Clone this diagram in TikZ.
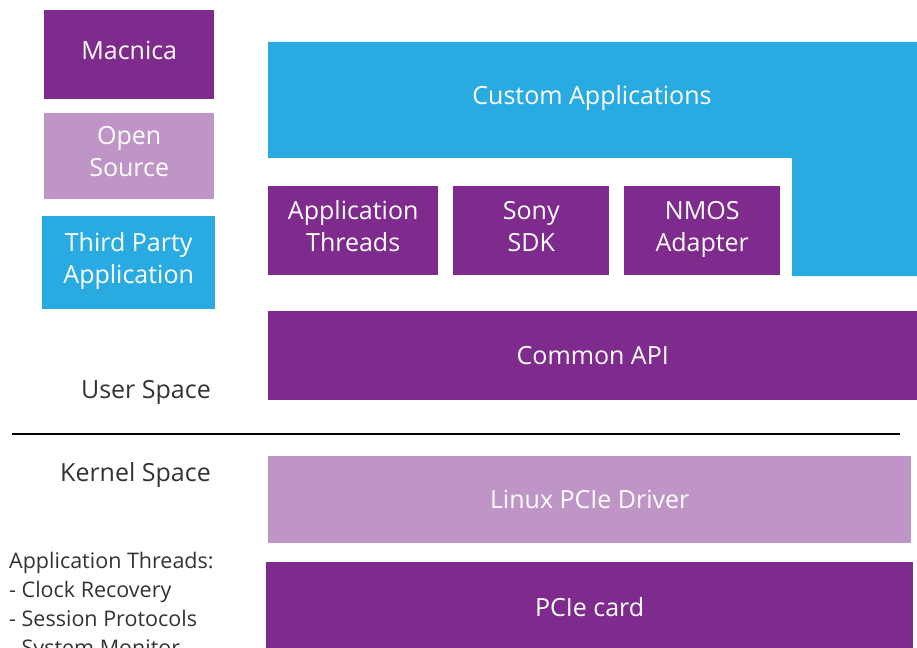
\documentclass[tikz,border=0pt]{standalone}
\usepackage{fontspec}
\setmainfont{Open Sans}
\usetikzlibrary{positioning}

\definecolor{mcpurple}{HTML}{7F2A8D}
\definecolor{ospurple}{HTML}{BF95C7}
\definecolor{tpblue}{HTML}{29ABE2}
\definecolor{labelgray}{HTML}{333333}

\begin{document}
\begin{tikzpicture}[x=1pt,y=-1pt,
    layer/.style={rectangle,anchor=north west,inner sep=0pt,text=white,align=center,
        font=\fontsize{25}{32}\selectfont},
    raised/.style={text depth=9pt},
    side/.style={text=labelgray,inner sep=0pt,font=\fontsize{25}{30}\selectfont}]
    \useasboundingbox (0,0) rectangle (917,647);
    \clip (0,0) rectangle (917,647);
    \begin{scope} % Legend
        \node[layer,raised,fill=mcpurple,minimum width=170,minimum height=89] (macnica) at (44,10) {Macnica};
        \node[layer,raised,fill=ospurple,minimum width=170,minimum height=86] (opensrc) at (44,113) {Open\\Source};
        \node[layer,raised,fill=tpblue,minimum width=173,minimum height=93] (thirdparty) at (42,216) {Third Party\\Application};
    \end{scope}
    \begin{scope} % User space stack
        \fill[tpblue] (268,42) -- (917,42) -- (917,276) -- (792,276) -- (792,158) -- (268,158) -- cycle;
        \node[text=white,font=\fontsize{25}{32}\selectfont] (custom) at (592,98) {Custom Applications};
        \node[layer,raised,fill=mcpurple,minimum width=170,minimum height=89] (appthreads) at (268,186) {Application\\Threads};
        \node[layer,raised,fill=mcpurple,minimum width=156,minimum height=89] (sonysdk) at (453,186) {Sony\\SDK};
        \node[layer,raised,fill=mcpurple,minimum width=156,minimum height=89] (nmos) at (624,186) {NMOS\\Adapter};
        \node[layer,fill=mcpurple,minimum width=649,minimum height=89] (commonapi) at (268,311) {Common API};
    \end{scope}
    % Boundary between user and kernel space
    \coordinate (divL) at (12,434);
    \coordinate (divR) at (900,434);
    \draw[line width=2.5pt] (divL) -- (divR);
    \node[side,anchor=east] (userspace) at (211,392) {User Space};
    \node[side,anchor=east] (kernelspace) at (211,475) {Kernel Space};
    \begin{scope} % Kernel space stack
        \node[layer,fill=ospurple,minimum width=643,minimum height=87] (driver) at (268,456) {Linux PCIe Driver};
        \node[layer,fill=mcpurple,minimum width=647,minimum height=90] (pcie) at (266,562) {PCIe card};
    \end{scope}
    % Notes on the application threads
    \node[text=labelgray,anchor=north west,align=left,inner sep=0pt,
        font=\fontsize{21.5}{29}\selectfont] (notes) at (9,552)
        {Application Threads:\\- Clock Recovery\\- Session Protocols\\- System Monitor};
\end{tikzpicture}
\end{document}
